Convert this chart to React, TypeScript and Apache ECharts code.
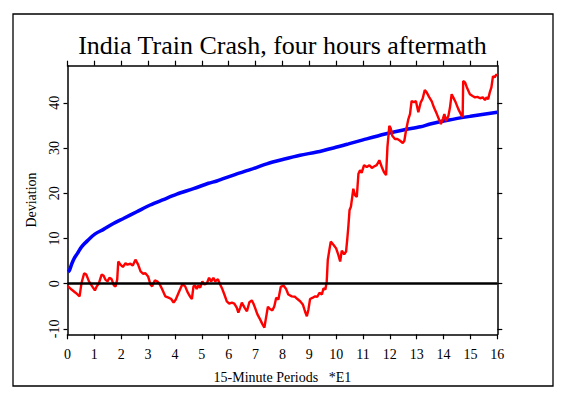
import React, { useEffect, useRef } from "react";
import * as echarts from "echarts";

const titleText = "India Train Crash, four hours aftermath";
const xAxisName = "15-Minute Periods\u00a0\u00a0\u00a0*E1";
const yAxisName = "Deviation";
const yTicks = [-10, 0, 10, 20, 30, 40];

const redSeries: number[][] = [
  [0.0, -0.5], [0.04, -0.7], [0.15, -1.3], [0.3, -2.0], [0.45, -2.8], [0.52, 0.1], [0.62, 2.3], [0.7, 2.0], [0.8, 0.5],
  [0.92, -0.6], [1.02, -1.5], [1.09, -0.6], [1.17, 0.1], [1.27, 2.0], [1.34, 1.8], [1.41, 0.9], [1.49, 0.5],
  [1.56, 1.3], [1.64, 1.0], [1.73, -0.4], [1.79, -0.6], [1.85, 0.9], [1.89, 4.9], [1.97, 4.2], [2.06, 3.7],
  [2.16, 4.5], [2.23, 4.2], [2.34, 4.4], [2.43, 4.0], [2.53, 5.3], [2.63, 4.2], [2.72, 2.7], [2.81, 2.2],
  [2.9, 2.3], [3.0, 1.6], [3.09, -0.2], [3.15, -0.6], [3.25, 0.7], [3.34, 0.5], [3.42, 0.0], [3.52, -1.2],
  [3.64, -2.8], [3.76, -3.1], [3.86, -3.4], [3.95, -4.2], [4.03, -3.5], [4.16, -1.7], [4.28, -0.1], [4.38, -0.6],
  [4.48, -2.0], [4.57, -2.9], [4.63, -3.4], [4.69, -0.6], [4.75, -0.4], [4.81, -1.2], [4.87, -0.4], [4.94, -0.9],
  [5.02, 0.5], [5.1, -0.2], [5.19, 0.1], [5.27, 1.3], [5.35, 0.5], [5.43, 1.3], [5.5, 0.5], [5.6, 1.0],
  [5.66, 0.1], [5.75, -1.0], [5.84, -2.4], [5.93, -3.9], [6.02, -4.4], [6.12, -4.2], [6.21, -4.4], [6.3, -5.3],
  [6.36, -6.4], [6.43, -5.3], [6.49, -4.2], [6.59, -5.3], [6.68, -6.1], [6.77, -4.1], [6.86, -3.7], [6.92, -4.4],
  [6.98, -5.3], [7.07, -6.8], [7.17, -7.9], [7.26, -9.0], [7.33, -9.7], [7.38, -7.9], [7.46, -5.1], [7.54, -5.6],
  [7.63, -5.9], [7.7, -5.0], [7.77, -3.1], [7.85, -3.5], [7.94, -0.7], [8.04, -0.4], [8.14, -1.2], [8.22, -2.4],
  [8.35, -2.8], [8.47, -2.9], [8.56, -3.4], [8.66, -3.9], [8.76, -4.6], [8.84, -6.1], [8.91, -7.2], [8.97, -5.7],
  [9.03, -3.4], [9.13, -3.1], [9.22, -2.8], [9.3, -2.9], [9.38, -2.0], [9.47, -2.4], [9.53, -1.0], [9.6, -1.3],
  [9.65, 0.5], [9.69, 5.3], [9.75, 7.5], [9.8, 9.3], [9.9, 8.6], [10.0, 7.8], [10.08, 6.4], [10.15, 4.9],
  [10.21, 7.3], [10.3, 6.5], [10.37, 7.1], [10.42, 10.2], [10.46, 13.0], [10.5, 16.3], [10.55, 17.0], [10.6, 19.2],
  [10.64, 21.0], [10.7, 19.6], [10.77, 19.2], [10.83, 24.3], [10.89, 25.1], [10.95, 24.5], [11.04, 26.2], [11.14, 25.8],
  [11.24, 26.2], [11.33, 25.6], [11.41, 25.9], [11.51, 26.2], [11.61, 27.3], [11.7, 25.8], [11.78, 24.7], [11.86, 24.0],
  [11.91, 30.2], [11.98, 34.9], [12.03, 34.4], [12.09, 32.7], [12.19, 32.0], [12.28, 32.0], [12.38, 31.6], [12.48, 31.1],
  [12.54, 31.6], [12.6, 33.8], [12.69, 36.4], [12.75, 37.5], [12.81, 40.4], [12.9, 40.1], [12.97, 40.4], [13.06, 37.9],
  [13.15, 40.1], [13.22, 40.9], [13.3, 42.8], [13.37, 42.3], [13.47, 41.2], [13.56, 40.3], [13.64, 39.0], [13.75, 37.5],
  [13.84, 36.2], [13.9, 35.3], [13.97, 36.4], [14.03, 37.5], [14.09, 36.0], [14.18, 37.1], [14.24, 39.0], [14.3, 41.9],
  [14.36, 41.2], [14.45, 40.1], [14.55, 38.6], [14.64, 37.5], [14.71, 36.8], [14.73, 44.8], [14.8, 44.5], [14.88, 43.2],
  [14.98, 41.9], [15.08, 41.5], [15.17, 41.2], [15.26, 41.3], [15.36, 41.0], [15.46, 41.2], [15.54, 40.6], [15.6, 41.2],
  [15.66, 40.8], [15.72, 42.3], [15.78, 43.4], [15.84, 45.9], [15.9, 45.6], [15.97, 46.3], [16.0, 46.0],
];

const blueSeries: number[][] = [
  [0.02, 2.6], [0.07, 2.9], [0.16, 4.4], [0.25, 5.6], [0.37, 6.7], [0.53, 8.2], [0.78, 9.7], [1.03, 11.0],
  [1.34, 12.0], [1.71, 13.3], [2.08, 14.4], [2.58, 15.9], [3.08, 17.4], [3.57, 18.6], [4.07, 19.8],
  [4.69, 21.0], [5.25, 22.2], [5.56, 22.7], [6.18, 24.0], [6.8, 25.2], [7.42, 26.5], [8.04, 27.5],
  [8.66, 28.4], [9.28, 29.1], [9.9, 30.0], [10.46, 30.9], [11.0, 31.8], [11.82, 33.1], [12.5, 34.0],
  [13.14, 34.7], [13.5, 35.3], [14.2, 36.2], [15.0, 37.0], [16.0, 37.9],
];

const FONT = "'Liberation Serif', 'DejaVu Serif', serif";

export default function App() {
  const ref = useRef<HTMLDivElement>(null);
  useEffect(() => {
    if (!ref.current) return;
    const chart = echarts.init(ref.current, null, { renderer: "svg" });
    const axisLineStyle = { color: "#000", width: 1.5 };
    const option: any = {
      animation: false,
      backgroundColor: "#fff",
      title: {
        text: titleText,
        left: "center",
        top: 27,
        textStyle: { fontFamily: FONT, fontSize: 26, fontWeight: "normal", color: "#000" },
      },
      grid: { left: 67.5, right: 67.7, top: 65.7, bottom: 64.7, show: false },
      graphic: [
        {
          type: "rect",
          shape: { x: 13, y: 14, width: 540, height: 372 },
          style: { fill: "none", stroke: "#000", lineWidth: 1.3 },
          silent: true,
        },
      ],
      xAxis: [
        {
          type: "value",
          min: 0,
          max: 16,
          interval: 1,
          position: "bottom",
          axisLine: { show: true, onZero: false, lineStyle: axisLineStyle },
          axisTick: { show: true, length: 5, lineStyle: { color: "#000", width: 1.2 } },
          axisLabel: { fontFamily: FONT, fontSize: 14, color: "#000", margin: 13 },
          splitLine: { show: false },
          name: xAxisName,
          nameLocation: "middle",
          nameGap: 36,
          nameTextStyle: { fontFamily: FONT, fontSize: 14, color: "#000" },
        },
        {
          type: "value",
          min: 0,
          max: 16,
          interval: 1,
          position: "top",
          axisLine: { show: true, onZero: false, lineStyle: axisLineStyle },
          axisTick: { show: true, length: 5, lineStyle: { color: "#000", width: 1.2 } },
          axisLabel: { show: false },
          splitLine: { show: false },
        },
      ],
      yAxis: [
        {
          type: "value",
          min: -11.2,
          max: 48.2,
          position: "left",
          axisLine: { show: true, onZero: false, lineStyle: axisLineStyle },
          axisTick: { show: true, length: 4, customValues: yTicks, lineStyle: { color: "#000", width: 1.2 } },
          axisLabel: { customValues: yTicks, rotate: 90, fontFamily: FONT, fontSize: 14, color: "#000", margin: 6 },
          splitLine: { show: false },
          name: yAxisName,
          nameLocation: "middle",
          nameGap: 29,
          nameRotate: 90,
          nameTextStyle: { fontFamily: FONT, fontSize: 14, color: "#000" },
        },
        {
          type: "value",
          min: -11.2,
          max: 48.2,
          position: "right",
          axisLine: { show: true, onZero: false, lineStyle: axisLineStyle },
          axisTick: { show: true, length: 5, customValues: yTicks, lineStyle: { color: "#000", width: 1.2 } },
          axisLabel: { show: false },
          splitLine: { show: false },
        },
      ],
      series: [
        {
          type: "line",
          data: blueSeries,
          showSymbol: false,
          smooth: 0.3,
          lineStyle: { color: "#0000ff", width: 3.5 },
          z: 2,
        },
        {
          type: "line",
          data: redSeries,
          showSymbol: false,
          lineStyle: { color: "#ff0000", width: 2.4 },
          z: 3,
          markLine: {
            silent: true,
            symbol: ["none", "none"],
            label: { show: false },
            lineStyle: { color: "#000", width: 2.5, type: "solid" },
            data: [{ yAxis: 0 }],
          },
        },
      ],
    };
    chart.setOption(option);
    return () => chart.dispose();
  }, []);
  return (
    <div
      ref={ref}
      style={{ position: "fixed", left: 0, top: 0, width: 565, height: 399, background: "#fff" }}
    />
  );
}
